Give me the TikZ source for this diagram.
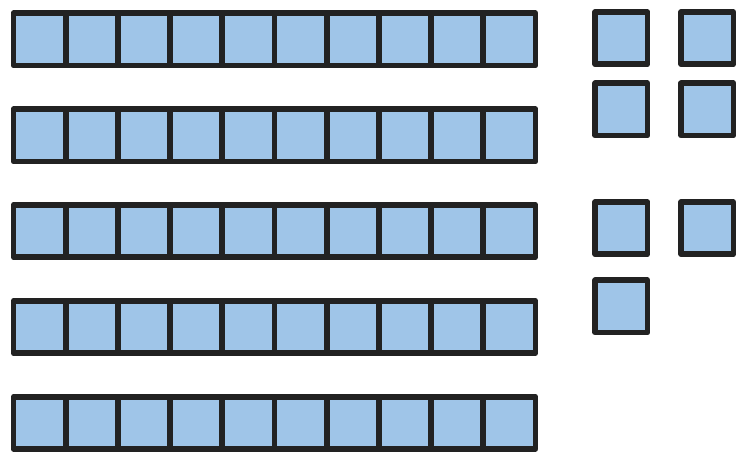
\documentclass[tikz,border=0pt]{standalone}
\begin{document}
\begin{tikzpicture}[x=1pt,y=-1pt,
  cell/.style={draw=edgecol,fill=cellfill,line width=5.7pt,line join=round,inner sep=0pt,minimum size=52.2pt,outer sep=0pt}]
\definecolor{cellfill}{HTML}{9FC5E8}
\definecolor{edgecol}{HTML}{222222}
\useasboundingbox (0,0) rectangle (750,458);
% rows of ten
\foreach \r in {0,...,4}{
  \foreach \i in {0,...,9}{
    \node[cell] (r\r c\i) at ({13.5+52.2*(\i+0.5)},{39.4+95.85*\r}) {};
  }
}
% single units
\node[cell] (u1) at (621.4,38.2) {};
\node[cell] (u2) at (707.3,38.2) {};
\node[cell] (u3) at (621.4,109.4) {};
\node[cell] (u4) at (707.3,109.4) {};
\node[cell] (u5) at (621.4,228.2) {};
\node[cell] (u6) at (707.3,228.2) {};
\node[cell] (u7) at (621.4,306.4) {};
\end{tikzpicture}
\end{document}
